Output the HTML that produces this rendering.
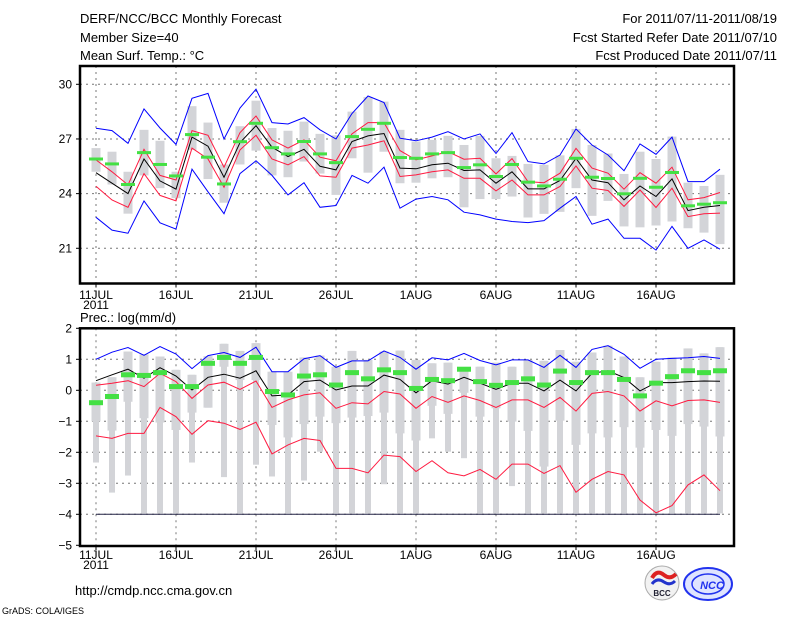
<!DOCTYPE html>
<html><head><meta charset="utf-8"><style>
body{margin:0;background:#fff}
svg{display:block;font-family:"Liberation Sans",sans-serif}
</style></head><body>
<svg id="c" width="800" height="618" viewBox="0 0 800 618" xmlns="http://www.w3.org/2000/svg">
<rect width="800" height="618" fill="#fff"/>
<g font-size="13" fill="#000">
<text x="80" y="23">DERF/NCC/BCC Monthly Forecast</text>
<text x="80" y="42">Member Size=40</text>
<text x="80" y="60">Mean Surf. Temp.: °C</text>
<text x="777" y="23" text-anchor="end">For 2011/07/11-2011/08/19</text>
<text x="777" y="42" text-anchor="end">Fcst Started Refer Date 2011/07/10</text>
<text x="777" y="60" text-anchor="end">Fcst Produced Date 2011/07/11</text>
</g>
<text x="80" y="322" font-size="13">Prec.: log(mm/d)</text>
<text x="75" y="595" font-size="13">http://cmdp.ncc.cma.gov.cn</text>
<text x="2" y="614" font-size="9">GrADS: COLA/IGES</text>
<g>
<circle cx="662" cy="583" r="17" fill="#f2f2f2" stroke="#aaa"/>
<path d="M652 578 q5 -9 12 -3 q6 5 12 -1" stroke="#d22" stroke-width="4" fill="none"/>
<path d="M652 584 q5 -7 12 -2 q6 4 11 -1" stroke="#23c" stroke-width="3" fill="none"/>
<text x="662" y="596" font-size="8" font-weight="bold" text-anchor="middle" fill="#223">BCC</text>
</g>
<g>
<ellipse cx="708" cy="584" rx="24" ry="16" fill="#dfe4ff" stroke="#2233ee" stroke-width="2"/>
<ellipse cx="708" cy="584" rx="16" ry="10" fill="none" stroke="#2233ee" stroke-width="1.5"/>
<text x="712" y="589" font-size="11" font-weight="bold" font-style="italic" text-anchor="middle" fill="#2233ee">NCC</text>
</g>
<g id="top"></g>
<g id="bot"></g>
</svg>
<script>
const dayLabels=["11JUL","16JUL","21JUL","26JUL","1AUG","6AUG","11AUG","16AUG"];
const tTicks=[30,27,24,21];
const pTicks=[2,1,0,-1,-2,-3,-4,-5];
const tBlueHi=[27.59,27.46,26.76,28.65,27.6,26.7,29.23,29.5,27.0,28.7,29.73,27.9,27.82,28.17,27.5,27.0,28.4,29.36,29.0,27.04,26.9,27.1,27.4,27.0,27.28,26.2,27.35,25.76,25.63,26.12,27.55,26.67,26.12,25.26,26.73,26.16,27.1,24.66,24.66,25.34];
const tBlueLo=[22.7,22.0,21.83,23.6,22.4,22.05,25.34,24.1,22.9,25.1,25.8,25.0,23.93,24.6,23.25,23.35,25.0,24.57,25.45,23.2,23.7,23.84,23.66,22.98,22.83,22.6,22.47,22.41,22.52,23.2,23.84,22.32,22.6,21.55,21.55,20.9,22.2,21.0,21.46,20.95];
const tRedHi=[25.85,25.2,24.48,26.43,25.0,24.75,27.46,27.2,25.45,27.35,28.26,26.95,26.5,26.95,26.0,25.8,27.28,27.9,27.9,26.36,25.85,26.07,26.3,25.89,25.94,25.08,25.92,24.66,24.6,25.12,26.49,25.4,25.12,24.24,25.15,24.57,25.45,23.66,23.78,24.06];
const tRedLo=[24.4,23.65,23.25,25.1,23.9,23.6,26.5,25.9,24.35,26.4,27.2,25.9,25.58,26.03,24.97,24.9,26.5,26.67,26.9,24.94,25.03,25.2,25.3,24.84,24.84,24.15,24.75,23.93,23.93,24.39,25.52,24.3,24.17,23.3,24.2,23.24,24.3,22.74,22.89,22.93];
const tMean=[25.15,24.57,24.0,25.9,24.7,24.25,27.1,26.6,24.9,26.8,27.73,26.55,26.03,26.43,25.5,25.3,26.86,27.17,27.3,25.4,25.36,25.58,25.67,25.27,25.3,24.57,25.2,24.26,24.26,24.72,25.94,24.75,24.6,23.66,24.42,23.84,24.81,23.07,23.25,23.35];
const tGreen=[25.9,25.63,24.5,26.25,25.6,24.97,27.24,26.0,24.53,26.85,27.86,26.52,26.18,26.86,26.18,25.7,27.13,27.53,27.86,25.98,25.94,26.18,26.25,25.43,25.58,24.94,25.6,24.63,24.42,24.79,25.94,24.9,24.83,23.99,24.84,24.35,25.16,23.33,23.42,23.5];
const tBoxHi=[26.5,26.3,25.2,27.5,26.9,25.2,28.8,27.9,25.6,27.7,29.1,27.6,27.45,27.95,27.28,27.2,28.5,29.3,29.05,27.5,26.86,26.95,27.17,26.67,27.17,25.94,26.07,25.63,25.58,26.1,27.55,26.67,26.2,25.08,26.3,25.9,27.13,24.6,24.42,25.03];
const tBoxLo=[25.2,24.5,22.9,25.0,24.3,23.75,26.4,24.8,23.5,25.6,26.36,25.0,24.9,25.76,25.1,23.93,25.94,25.15,26.3,24.57,24.6,24.84,24.9,23.25,23.7,23.7,23.84,22.69,22.89,23.0,24.3,22.78,23.6,22.2,22.15,22.25,22.47,22.1,21.86,21.23];
const pBlue=[1.0,1.23,1.38,1.13,1.41,1.17,0.7,1.12,1.22,1.06,1.39,0.6,0.6,1.02,1.12,0.74,0.95,0.95,1.27,1.06,0.68,1.05,0.98,1.19,0.96,0.82,0.98,0.98,0.74,1.13,0.74,1.32,1.44,1.16,0.71,1.0,1.03,1.05,1.09,1.03];
const pMin=[-4,-4,-4,-4,-4,-4,-4,-4,-4,-4,-4,-4,-4,-4,-4,-4,-4,-4,-4,-4,-4,-4,-4,-4,-4,-4,-4,-4,-4,-4,-4,-4,-4,-4,-4,-4,-4,-4,-4,-4];
const pMean=[0.31,0.5,0.68,0.39,0.73,0.46,0.01,0.42,0.52,0.39,0.63,-0.18,-0.15,0.28,0.33,0.01,0.14,0.14,0.49,0.35,-0.08,0.31,0.2,0.42,0.23,0.03,0.23,0.23,-0.02,0.33,-0.02,0.55,0.63,0.41,-0.02,0.25,0.25,0.28,0.3,0.29];
const pRedHi=[0.16,0.23,0.31,0.12,0.55,0.28,-0.26,0.17,0.26,0.03,0.3,-0.55,-0.31,-0.15,-0.08,-0.58,-0.4,-0.44,-0.04,-0.12,-0.58,-0.2,-0.39,-0.18,-0.33,-0.55,-0.31,-0.31,-0.55,-0.23,-0.67,-0.1,-0.04,-0.18,-0.67,-0.34,-0.5,-0.33,-0.31,-0.39];
const pRedLo=[-1.47,-1.55,-1.39,-1.39,-0.55,-0.85,-1.42,-0.98,-1.06,-1.26,-1.03,-2.05,-1.76,-1.55,-1.62,-2.52,-2.52,-2.66,-2.09,-2.14,-2.62,-2.27,-2.66,-2.76,-2.55,-2.87,-2.38,-2.38,-2.68,-2.43,-3.29,-2.87,-2.62,-2.73,-3.54,-3.95,-3.72,-3.05,-2.73,-3.24];
const pGreen=[-0.4,-0.2,0.5,0.48,0.57,0.12,0.12,0.87,1.06,0.87,1.06,-0.04,-0.15,0.46,0.5,0.17,0.57,0.37,0.66,0.57,0.06,0.35,0.31,0.68,0.28,0.16,0.25,0.37,0.17,0.62,0.25,0.57,0.57,0.35,-0.18,0.23,0.44,0.63,0.57,0.63];
const pWhHi=[0.25,0.42,1.25,1.16,1.09,0.66,0.5,1.1,1.5,1.27,1.52,0.6,0.6,1.06,1.12,0.76,1.27,0.98,1.25,1.28,0.98,0.87,0.89,0.63,0.76,0.89,0.76,0.98,0.95,1.3,0.92,1.22,1.44,1.09,0.42,0.92,1.06,1.35,1.19,1.39];
const pWhLo=[-2.33,-3.3,-2.75,-3.97,-3.97,-3.97,-2.33,-0.56,-2.8,-3.97,-2.4,-2.78,-3.97,-2.91,-1.98,-3.97,-3.97,-3.97,-3.03,-3.97,-3.97,-1.55,-1.98,-2.19,-3.97,-3.97,-3.09,-3.97,-3.97,-3.97,-3.97,-3.97,-3.97,-3.97,-3.97,-3.97,-3.97,-3.97,-3.97,-3.97];
const pBoxLo=[-1.0,-1.3,-0.37,-0.9,-1.04,-1.28,-0.72,-0.56,0.76,0.33,0.33,-1.12,-1.52,-1.09,-0.85,-1.06,-0.88,-0.83,-0.72,-1.39,-1.62,-0.5,-0.76,-0.08,-0.85,-0.58,-1.01,-1.31,-2.46,-0.98,-1.76,-1.39,-1.52,-1.19,-1.85,-1.28,-1.47,-1.09,-1.17,-1.49];

const NS="http://www.w3.org/2000/svg";
const L=80,R=734;
const x=i=>96+16*i;
const yT=v=>84.3+(30-v)*18.22;
const yP=v=>390.3-v*31;
function mk(tag,attrs,parent){const e=document.createElementNS(NS,tag);for(const k in attrs)e.setAttribute(k,attrs[k]);parent.appendChild(e);return e;}
function poly(arr,yf,color,g,name){
  const el=mk('polyline',{points:arr.map((v,i)=>x(i)+','+yf(v).toFixed(1)).join(' '),fill:'none',stroke:color,'stroke-width':1},g);
  
  
}
function panel(g,top,bot,ticks,yf,labelY){
  ticks.forEach(t=>{
    const yy=yf(t);
    if(yy>top+1&&yy<bot-1){
      const gl=mk('line',{x1:L,x2:R,y1:yy,y2:yy,stroke:'#777','stroke-dasharray':'2,4','stroke-width':1},g);
      
      
    }
    const tk=mk('line',{x1:L-4,x2:L,y1:yy,y2:yy,stroke:'#000'},g);
    
    
    const tx=mk('text',{x:L-8,y:yy+4,'font-size':12,'text-anchor':'end'},g);
    tx.textContent=String(t).replace('-','\u2212');
    
    
  });
  dayLabels.forEach((d,k)=>{
    const xx=x(5*k);
    const gl=mk('line',{x1:xx,x2:xx,y1:top,y2:bot,stroke:'#777','stroke-dasharray':'2,4'},g);
    
    
    const tk=mk('line',{x1:xx,x2:xx,y1:bot,y2:bot+4,stroke:'#000'},g);
    
    
    const tx=mk('text',{x:xx,y:labelY,'font-size':12,'text-anchor':'middle'},g);
    tx.textContent=d;
    
    
  });
  const yr=mk('text',{x:x(0),y:labelY+10,'font-size':12,'text-anchor':'middle'},g);
  yr.textContent='2011';
  
  
}
function frame(g,top,bot){
  const f=mk('rect',{x:L,y:top,width:R-L,height:bot-top,fill:'none',stroke:'#000','stroke-width':2.5},g);
  
  
}
// TOP
const gt=document.getElementById('top');
panel(gt,66,283.5,tTicks,yT,299);
tBoxHi.forEach((v,i)=>{
  const r=mk('rect',{x:x(i)-4.5,y:yT(v),width:9,height:yT(tBoxLo[i])-yT(v),fill:'#d3d4d8'},gt);
  
  
});
poly(tBlueHi,yT,'#0000ff',gt,'temp-max-line');
poly(tBlueLo,yT,'#0000ff',gt,'temp-min-line');
poly(tRedHi,yT,'#ff1a40',gt,'temp-upper-line');
poly(tRedLo,yT,'#ff1a40',gt,'temp-lower-line');
poly(tMean,yT,'#000',gt,'temp-mean-line');
tGreen.forEach((v,i)=>{
  const r=mk('rect',{x:x(i)-7,y:yT(v)-1.5,width:14,height:3,fill:'#44e044'},gt);
  
  
});
frame(gt,66,283.5);
// BOTTOM
const gb=document.getElementById('bot');
panel(gb,328.3,546,pTicks,yP,559);
pWhHi.forEach((v,i)=>{
  const r=mk('rect',{x:x(i)-3,y:yP(v),width:6,height:yP(pWhLo[i])-yP(v),fill:'#d3d4d8'},gb);
  
  
  const b=mk('rect',{x:x(i)-4.5,y:yP(v),width:9,height:yP(pBoxLo[i])-yP(v),fill:'#d3d4d8'},gb);
  
  
});
poly(pMin,yP,'#222244',gb,'precip-min-line');
poly(pBlue,yP,'#0000ff',gb,'precip-max-line');
poly(pRedHi,yP,'#ff1a40',gb,'precip-upper-line');
poly(pRedLo,yP,'#ff1a40',gb,'precip-lower-line');
poly(pMean,yP,'#000',gb,'precip-mean-line');
pGreen.forEach((v,i)=>{
  const r=mk('rect',{x:x(i)-7,y:yP(v)-2.5,width:14,height:5,fill:'#44e044'},gb);
  
  
});
frame(gb,328.3,546);
</script>
</body></html>
